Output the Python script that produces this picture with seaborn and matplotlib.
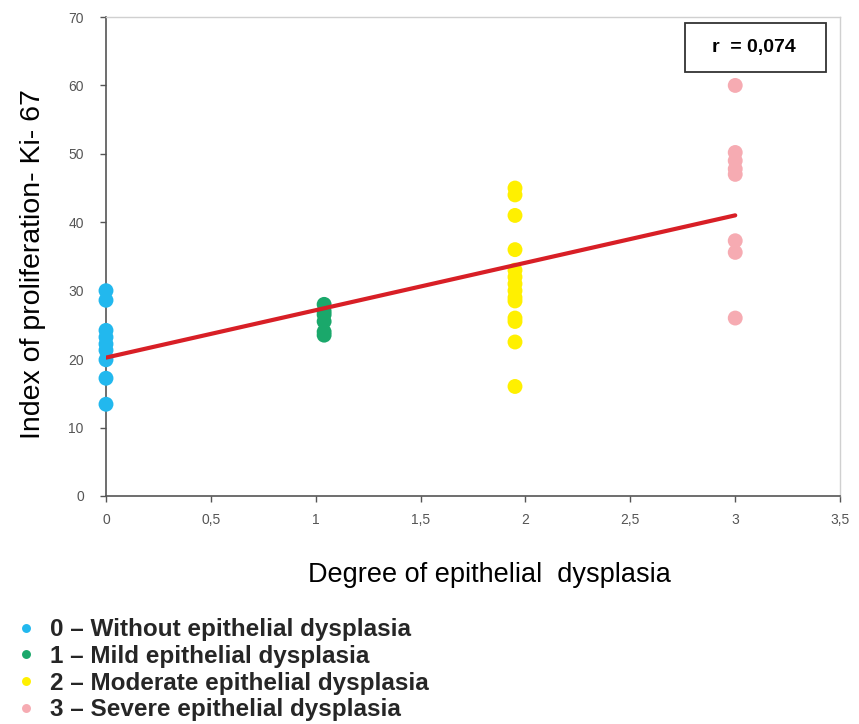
import numpy as np
import pandas as pd
import matplotlib
matplotlib.use("Agg")
import matplotlib.pyplot as plt
from matplotlib.patches import Rectangle
import seaborn as sns

# ---- data ----
x_group0 = 0.0
x_group1 = 1.04
x_group2 = 1.95
x_group3 = 3.0
y_group0 = [30.0, 28.6, 24.2, 23.2, 22.2, 21.3, 19.9, 17.2, 13.4]
y_group1 = [28.0, 27.0, 26.5, 25.5, 24.0, 23.5]
y_group2 = [45.0, 44.0, 41.0, 36.0, 33.0, 32.0, 31.0, 30.0, 29.0, 28.5, 26.0, 25.5, 22.5, 16.0]
y_group3 = [60.0, 50.2, 49.0, 47.8, 47.0, 37.3, 35.6, 26.0]
group_labels = ["0 \u2013 Without epithelial dysplasia",
                "1 \u2013 Mild epithelial dysplasia",
                "2 \u2013 Moderate epithelial dysplasia",
                "3 \u2013 Severe epithelial dysplasia"]
group_colors = ["#22b8ee", "#1aa86b", "#fff000", "#f6abb2"]
x_ticks = [0, 0.5, 1, 1.5, 2, 2.5, 3, 3.5]
x_ticklabels = ["0", "0,5", "1", "1,5", "2", "2,5", "3", "3,5"]
y_ticks = [0, 10, 20, 30, 40, 50, 60, 70]
r_text = "r  = 0,074"

xs = [x_group0, x_group1, x_group2, x_group3]
ys = [y_group0, y_group1, y_group2, y_group3]
rows = []
for xv, yl, lab in zip(xs, ys, group_labels):
    for yv in yl:
        rows.append({"degree": xv, "ki67": yv, "group": lab})
df = pd.DataFrame(rows)

sns.set_style("white")
plt.rcParams["font.family"] = ["Liberation Sans", "DejaVu Sans"]

fig = plt.figure(figsize=(8.59, 7.24), dpi=100)
ax = fig.add_axes([0.1234, 0.315, 0.8546, 0.6615])

sns.scatterplot(data=df, x="degree", y="ki67", hue="group",
                palette=dict(zip(group_labels, group_colors)),
                hue_order=group_labels, s=115, edgecolor="none",
                ax=ax, legend=True, zorder=3, clip_on=False)
sns.regplot(data=df, x="degree", y="ki67", scatter=False, ci=None,
            color="#d81f26", line_kws={"linewidth": 3, "zorder": 4}, ax=ax)

ax.set_xlim(0, 3.5)
ax.set_ylim(0, 70)
ax.set_xticks(x_ticks)
ax.set_xticklabels(x_ticklabels)
ax.set_yticks(y_ticks)
ax.tick_params(axis="both", labelsize=10, labelcolor="#555555", colors="#555555",
               length=4, width=1, direction="out", bottom=True, left=True)
ax.tick_params(axis="x", pad=8)
ax.tick_params(axis="y", pad=12)
for s in ["left", "bottom"]:
    ax.spines[s].set_color("#555555")
    ax.spines[s].set_linewidth(1.2)
for s in ["top", "right"]:
    ax.spines[s].set_color("#d0d0d0")
    ax.spines[s].set_linewidth(1.0)

ax.set_xlabel("Degree of epithelial  dysplasia", fontsize=19.5, color="black")
ax.xaxis.set_label_coords(0.522, -0.137)
ax.set_ylabel("Index of proliferation- Ki- 67", fontsize=20.5, color="black")
ax.yaxis.set_label_coords(-0.082, 0.484)

ax.add_patch(Rectangle((0.789, 0.885), 0.192, 0.102, transform=ax.transAxes,
                       facecolor="white", edgecolor="#333333", linewidth=1.3,
                       zorder=5, clip_on=False))
ax.text(0.882, 0.936, r_text, transform=ax.transAxes, ha="center", va="center",
        fontsize=14, fontweight="bold", color="black", zorder=6)

handles, labels = ax.get_legend_handles_labels()
ax.get_legend().remove()
leg = fig.legend(handles, labels, loc="upper left", bbox_to_anchor=(0.016, 0.146),
                 frameon=False, borderpad=0, borderaxespad=0, handletextpad=0.5,
                 labelspacing=0.15, markerscale=0.6, handlelength=1.0,
                 prop={"size": 17.5, "weight": "bold"})

fig.savefig("out.png", dpi=100)
